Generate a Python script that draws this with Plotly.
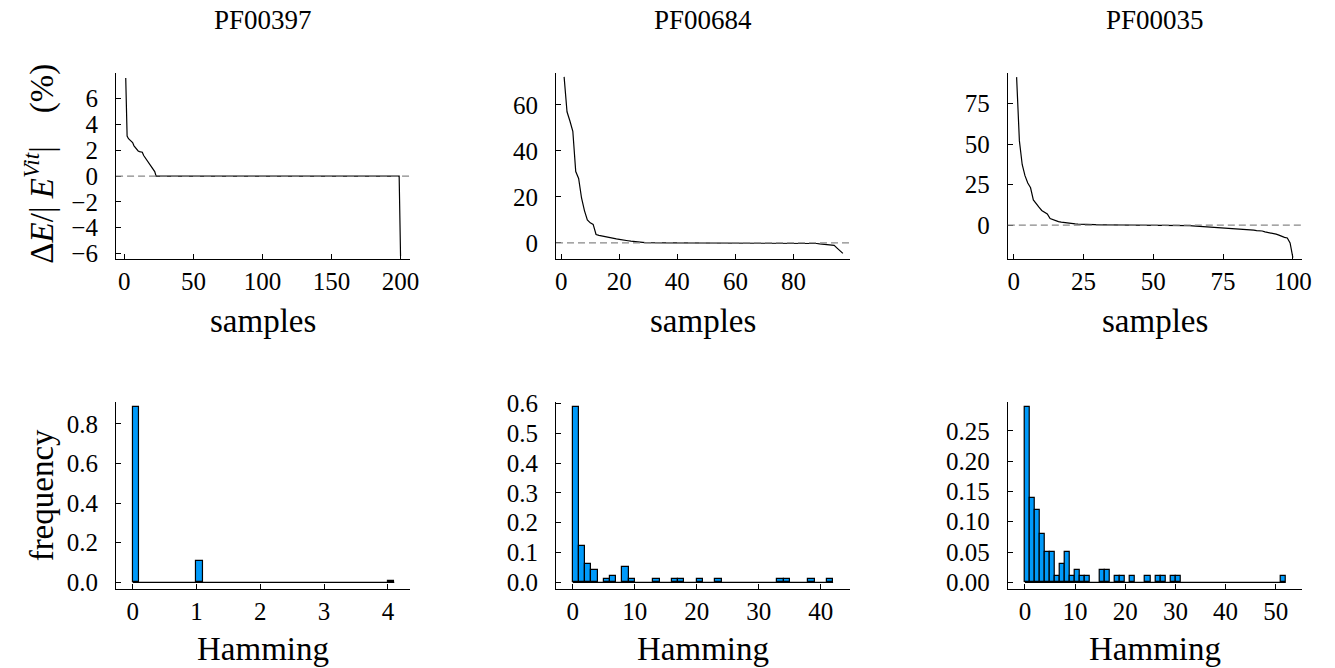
import plotly.graph_objects as go
from plotly.subplots import make_subplots

SERIF = "Liberation Serif"
BAR_BLUE = "#009AFA"

families = ["PF00397", "PF00684", "PF00035"]

# sorted relative energy gap dE/|E_vit| (%), sample index starts at 1
de_pf00397 = ([7.6, 3.1, 2.9, 2.8, 2.7, 2.6, 2.35, 2.2, 2.05, 1.95, 1.9,
               1.88, 1.85, 1.6, 1.45, 1.3, 1.15, 1.0, 0.85, 0.72, 0.55, 0.35]
              + [0.0] * 177 + [-6.2])
de_pf00684 = ([72.2, 57.0, 53.0, 48.5, 31.0, 28.0, 19.5, 14.0, 10.0, 8.7,
               8.0, 3.6, 3.2, 2.9, 2.6, 2.3, 2.1, 1.9, 1.7, 1.5,
               1.2, 1.0, 0.9, 0.7, 0.5, 0.4, 0.3, 0.2, 0.1, 0.05]
              + [0.0] * 56
              + [-0.1, -0.3, -0.5, -0.6, -0.7, -0.8, -0.9, -1.1, -2.3, -3.5, -4.6])
de_pf00035 = ([91.4, 52.0, 37.4, 30.5, 26.0, 23.0, 15.5, 13.0, 11.0, 9.0,
               7.8, 6.8, 4.0, 3.2, 2.6, 2.1, 1.8, 1.5, 1.3, 1.1,
               0.9, 0.75, 0.6, 0.5, 0.4, 0.3, 0.25, 0.2, 0.15, 0.1]
              + [0.05] * 5 + [0.0] * 25
              + [-0.2, -0.3, -0.4, -0.5, -0.6, -0.7, -0.8, -0.9, -1.0, -1.1,
                 -1.2, -1.3, -1.4, -1.5, -1.6, -1.8, -2.0, -2.2, -2.4, -2.5,
                 -2.6, -2.65, -2.7, -2.9, -3.0, -3.2, -3.4, -3.5, -3.7, -4.2,
                 -4.5, -4.8, -5.2, -5.6, -6.2, -7.0, -7.6, -8.0, -11.0, -20.2])

# Hamming distance histograms: bin left edges and counts (empty bins omitted)
ham_pf00397_bins = [0.0, 1.0, 4.0]
ham_pf00397_counts = [177, 22, 1]
ham_pf00397_width = 0.1

ham_pf00684_bins = [0, 1, 2, 3, 5, 6, 8, 9, 13, 16, 17, 20, 23, 33, 34, 38, 41]
ham_pf00684_counts = [57, 12, 6, 4, 1, 2, 5, 1, 1, 1, 1, 1, 1, 1, 1, 1, 1]
ham_pf00684_width = 1

ham_pf00035_bins = [0, 1, 2, 3, 4, 5, 6, 7, 8, 9, 10, 11, 12, 15, 16, 18, 19,
                    21, 24, 26, 27, 29, 30, 51]
ham_pf00035_counts = [29, 14, 12, 8, 5, 5, 1, 3, 5, 1, 2, 1, 1, 2, 2, 1, 1,
                      1, 1, 1, 1, 1, 1, 1]
ham_pf00035_width = 1

energy = [de_pf00397, de_pf00684, de_pf00035]
hists = [
    (ham_pf00397_bins, ham_pf00397_counts, ham_pf00397_width),
    (ham_pf00684_bins, ham_pf00684_counts, ham_pf00684_width),
    (ham_pf00035_bins, ham_pf00035_counts, ham_pf00035_width),
]

# axis settings per column
top_x = [dict(range=[-6, 207], tickvals=[0, 50, 100, 150, 200]),
         dict(range=[-1.8, 99.6], tickvals=[0, 20, 40, 60, 80]),
         dict(range=[-2.15, 103.4], tickvals=[0, 25, 50, 75, 100])]
top_y = [dict(range=[-6.45, 8.0], tickvals=[-6, -4, -2, 0, 2, 4, 6]),
         dict(range=[-7.2, 73.9], tickvals=[0, 20, 40, 60]),
         dict(range=[-21.2, 94], tickvals=[0, 25, 50, 75])]
bot_x = [dict(range=[-0.26, 4.35], tickvals=[0, 1, 2, 3, 4]),
         dict(range=[-2.7, 44.8], tickvals=[0, 10, 20, 30, 40]),
         dict(range=[-3.4, 55.3], tickvals=[0, 10, 20, 30, 40, 50])]
bot_y = [dict(range=[-0.032, 0.911], tickvals=[0, 0.2, 0.4, 0.6, 0.8], tickformat=".1f"),
         dict(range=[-0.021, 0.605], tickvals=[0, 0.1, 0.2, 0.3, 0.4, 0.5, 0.6], tickformat=".1f"),
         dict(range=[-0.0104, 0.2977], tickvals=[0, 0.05, 0.1, 0.15, 0.2, 0.25], tickformat=".2f")]

W, H = 1335, 668
# target pixel boxes of the panels (left/right, top/bottom)
col_px = [(116, 410), (555.7, 850), (1007.3, 1301.7)]
row_px = [(71, 258), (401, 588.3)]


# the capture comes out slightly shrunk and shifted; pre-correct for it
def px_x(x):
    return (x - 1.0) / 0.992 / W


def px_y(y):
    return 1 - (y - 9.9) / 0.973 / H


fig = make_subplots(rows=2, cols=3)

for c in range(3):
    vals = energy[c]
    fig.add_trace(go.Scatter(x=list(range(1, len(vals) + 1)), y=vals, mode="lines",
                             line=dict(color="black", width=1.2), showlegend=False),
                  row=1, col=c + 1)
    fig.add_hline(y=0, line=dict(color="#888888", width=1.2, dash="7px,4px"),
                  row=1, col=c + 1)

    bins, counts, width = hists[c]
    total = sum(counts)
    freq = [n / total for n in counts]
    fig.add_trace(go.Scatter(x=[min(bins), max(bins) + width], y=[0, 0], mode="lines",
                             line=dict(color="black", width=1.2), showlegend=False),
                  row=2, col=c + 1)
    fig.add_trace(go.Bar(x=[b + width / 2 for b in bins], y=freq, width=width,
                         marker=dict(color=BAR_BLUE, line=dict(color="black", width=1.2)),
                         showlegend=False),
                  row=2, col=c + 1)

axis_style = dict(showline=True, linecolor="black", linewidth=1.2, ticks="inside",
                  ticklen=5, tickcolor="black", tickwidth=1, showgrid=False,
                  zeroline=False, tickfont=dict(family=SERIF, size=25, color="black"))

for c in range(3):
    x0, x1 = col_px[c]
    for r in range(2):
        y0, y1 = row_px[r]
        xs = top_x[c] if r == 0 else bot_x[c]
        ys = top_y[c] if r == 0 else bot_y[c]
        fig.update_xaxes(domain=[px_x(x0), px_x(x1)], ticklabelstandoff=0,
                         **axis_style, **xs, row=r + 1, col=c + 1)
        fig.update_yaxes(domain=[px_y(y1), px_y(y0)], ticklabelstandoff=12,
                         **axis_style, **ys, row=r + 1, col=c + 1)


def label(text, x, y, size, angle=0):
    return dict(text=text, x=px_x(x), y=px_y(y), xref="paper", yref="paper",
                xanchor="center", yanchor="middle", textangle=angle, showarrow=False,
                font=dict(family=SERIF, size=size, color="black"))


annotations = []
for c in range(3):
    xc = (col_px[c][0] + col_px[c][1]) / 2
    annotations.append(label(families[c], xc, 18, 27))
    annotations.append(label("samples", xc, 320, 33))
    annotations.append(label("Hamming", xc, 649, 33))

nb = "\u00a0"
annotations.append(label("Δ<i>E</i>/|" + nb + "<i>E</i><sup><i>Vit</i></sup>|" + nb * 4 + "(%)",
                         40, 162, 33, angle=-90))
annotations.append(label("frequency", 42, 494.7, 33, angle=-90))

fig.update_layout(width=W, height=H, margin=dict(l=0, r=0, t=0, b=0),
                  plot_bgcolor="white", paper_bgcolor="white", bargap=0,
                  showlegend=False, annotations=annotations)

fig.write_html("out.html", config={"displayModeBar": False},
               post_script="document.body.style.margin='0px';"
                           "document.documentElement.style.overflow='hidden';")
